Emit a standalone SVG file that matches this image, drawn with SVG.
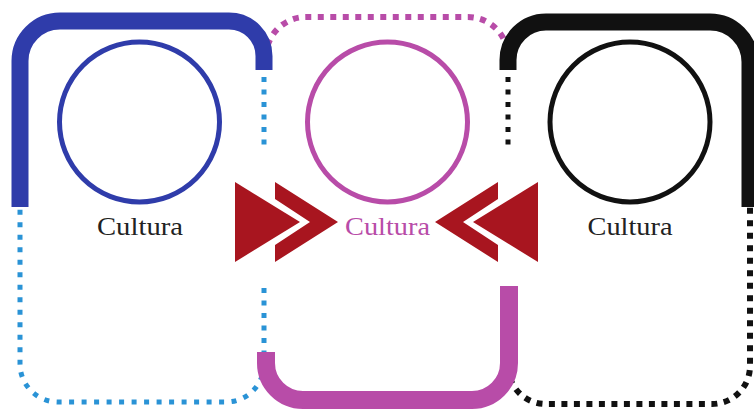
<svg xmlns="http://www.w3.org/2000/svg" width="754" height="410" viewBox="0 0 754 410">
<style>
.solid{fill:none;stroke-linecap:butt;stroke-linejoin:round}
.dot{fill:none;stroke-linecap:butt}
.lb{stroke:#2a93d6;stroke-width:5;stroke-dasharray:5 7.5}
.pk{stroke:#b84ca8}
.bk{stroke:#111}
.bl{stroke:#2f3caa}
.circ{fill:none;stroke-width:5}
.lbl{font-family:"Liberation Serif","Times New Roman",serif;font-size:26px;text-anchor:middle}
.arrow{fill:#a8151f}
</style>
<rect width="754" height="410" fill="#fff"/>
<g id="connectors">
  <!-- dotted segments -->
  <path class="dot lb" d="M264,77 V148"/>
  <path class="dot lb" d="M264,288 V364 A38,38 0 0 1 226,402 H58 A38,38 0 0 1 20,364 V207"/>
  <path class="dot pk" stroke-width="6" stroke-dasharray="6 6.5" d="M266,70 V57 A40,40 0 0 1 306,17 H468 A40,40 0 0 1 508,57 V70"/>
  <path class="dot bk" stroke-width="5" stroke-dasharray="5 7.5" d="M508,77 V150"/>
  <path class="dot bk" stroke-width="6" stroke-dasharray="6 6.5" d="M508,366 A38,38 0 0 0 546,404 H712 A38,38 0 0 0 750,366 V207"/>
  <!-- solid segments -->
  <path class="solid bl" stroke-width="17" d="M20,207 V61 A40,40 0 0 1 60,21 H229 A35,35 0 0 1 264,56 V70"/>
  <path class="solid pk" stroke-width="18" d="M509,286 V363 A37,37 0 0 1 472,400 H303 A37,37 0 0 1 266,363 V352"/>
  <path class="solid bk" stroke-width="17" d="M508,70 V60 A38,38 0 0 1 546,22 H710 A40,40 0 0 1 750,62 V207"/>
</g>
<g id="node-blue">
  <circle class="circ" cx="139.5" cy="122" r="80" stroke="#2f3caa"/>
  <text class="lbl" x="140" y="235" fill="#222" textLength="86" lengthAdjust="spacingAndGlyphs">Cultura</text>
</g>
<g id="node-pink">
  <circle class="circ" cx="387.5" cy="122" r="80" stroke="#b84ca8"/>
  <text class="lbl" x="387.5" y="235" fill="#b84ca8" textLength="85" lengthAdjust="spacingAndGlyphs">Cultura</text>
</g>
<g id="node-black">
  <circle class="circ" cx="630" cy="122" r="80" stroke="#111"/>
  <text class="lbl" x="630" y="235" fill="#222" textLength="85" lengthAdjust="spacingAndGlyphs">Cultura</text>
</g>
<g id="arrows-left">
  <polygon class="arrow" points="235,182 300,222 235,262"/>
  <polygon class="arrow" points="275,182 338,222 275,262 275,245 310,222 275,199"/>
</g>
<g id="arrows-right" transform="translate(773,0) scale(-1,1)">
  <polygon class="arrow" points="235,182 300,222 235,262"/>
  <polygon class="arrow" points="275,182 338,222 275,262 275,245 310,222 275,199"/>
</g>
</svg>
